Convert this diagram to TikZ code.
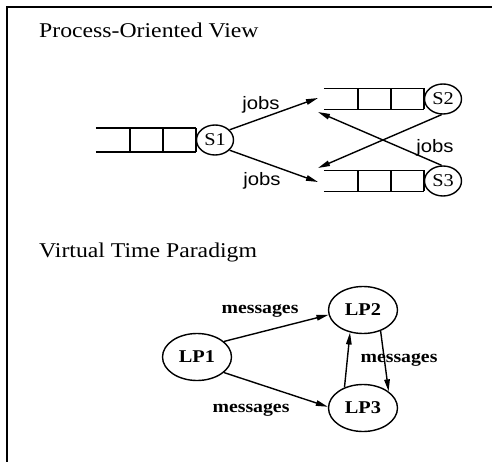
\documentclass[tikz,border=0pt]{standalone}
\usepackage{fontspec}
\setmainfont{Liberation Serif}
\newfontfamily\lsans{Liberation Sans}
\usepackage{graphicx}
\usetikzlibrary{shapes.geometric,arrows.meta}
\newcommand{\hst}[1]{\scalebox{1.13}[1]{#1}}
\newcommand{\drawqueue}[2]{%
  \draw[ln] ([shift={(-100,-#2)}]#1.west) -- ([shift={(0,-#2)}]#1.west)
            ([shift={(-100,#2)}]#1.west) -- ([shift={(0,#2)}]#1.west);
  \foreach \dx in {0,-33,-66} \draw[ln] ([shift={(\dx,-#2)}]#1.west) -- ([shift={(\dx,#2)}]#1.west);
}
\begin{document}
\begin{tikzpicture}[x=1pt,y=-1pt,
  ln/.style={line width=1.4pt},
  arr/.style={line width=1.4pt,-{Triangle[length=12pt,width=5.5pt]}},
  srv/.style={ellipse,draw,line width=1.4pt,minimum width=37pt,minimum height=30pt,inner sep=0pt,font=\fontsize{18}{18}\selectfont},
  lp/.style={ellipse,draw,line width=1.4pt,minimum width=69pt,minimum height=47pt,inner sep=0pt,font=\fontsize{18}{18}\selectfont\bfseries},
  title/.style={anchor=base west,inner sep=0pt,font=\fontsize{21}{21}\selectfont},
  jl/.style={inner sep=0pt,font=\lsans\fontsize{18}{18}\selectfont},
  ml/.style={inner sep=0pt,font=\fontsize{17.5}{17.5}\selectfont\bfseries}
]
\useasboundingbox (0,0) rectangle (492,462);
\coordinate (fbl) at (7,462);
\coordinate (ftl) at (7,7);
\coordinate (ftr) at (492,7);
\draw[line width=1.8pt] (fbl) -- (ftl) -- (ftr);

\node[title] (t1) at (39,38) {\hst{Process-Oriented View}};
\node[title] (t2) at (39,258) {\hst{Virtual Time Paradigm}};

\node[srv] (S1) at (215,140) {\hst{S1}};
\node[srv] (S2) at (443,99) {\hst{S2}};
\node[srv] (S3) at (443,181) {\hst{S3}};
\drawqueue{S1}{12}
\drawqueue{S2}{10.5}
\drawqueue{S3}{10.5}

\coordinate (t12) at (318,98);
\coordinate (t13) at (318,182);
\coordinate (t23) at (318,168);
\coordinate (t32) at (318,112);
\draw[arr] (S1.35) -- (t12);
\draw[arr] (S1.-35) -- (t13);
\draw[arr] (S2.-95) -- (t23);
\draw[arr] (S3.95) -- (t32);
\node[jl] (j1) at (261,105) {\hst{jobs}};
\node[jl] (j2) at (262,181) {\hst{jobs}};
\node[jl] (j3) at (435,148) {\hst{jobs}};

\node[lp] (LP1) at (197,357) {\hst{LP1}};
\node[lp] (LP2) at (363,310) {\hst{LP2}};
\node[lp] (LP3) at (363,408) {\hst{LP3}};
\draw[arr] (LP1.30) -- (LP2.188);
\draw[arr] (LP1.-30) -- (LP3.178);
\draw[arr] (LP3.132) -- (LP2.-120);
\draw[arr] (LP2.-50) -- (LP3.33);
\node[ml] (m1) at (260,311) {\hst{messages}};
\node[ml] (m2) at (251,410) {\hst{messages}};
\node[ml] (m3) at (399,360) {\hst{messages}};
\end{tikzpicture}
\end{document}
